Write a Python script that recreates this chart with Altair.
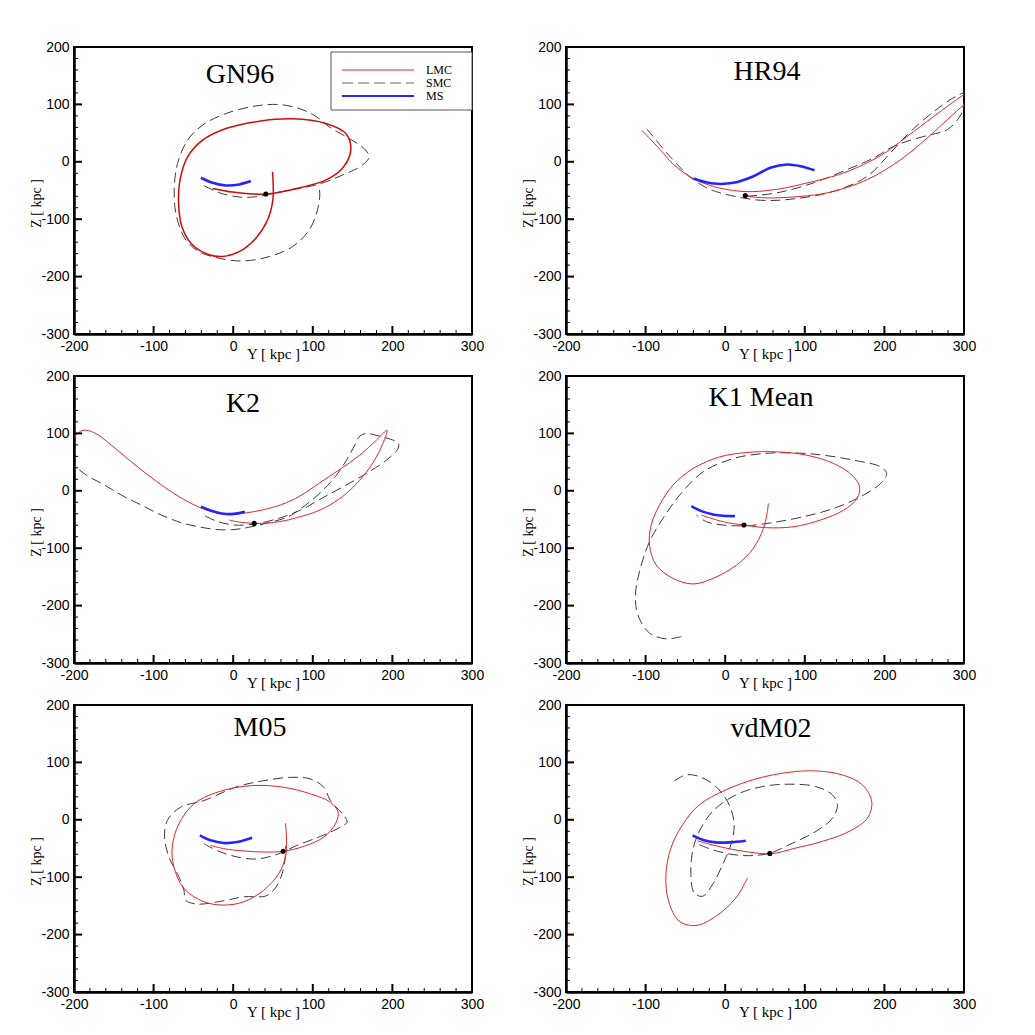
import altair as alt
import pandas as pd

# ---------------- data (Y, Z in kpc) ----------------
gn96_lmc_y = [-26, -1, 16, 41, 74.5, 116, 137, 147.7, 141.4, 116.3, 74.5, 32.6, -9.2, -38.5, -57.3, -66.9, -68.6, -64.4, -51, -30.1, -13.4, 7.5, 28.5, 43.1, 49.8, 50.2, 49.4]
gn96_lmc_z = [-46.4, -52.8, -55.1, -56.2, -48.1, -31.9, -11.6, 20.3, 49.3, 66.7, 74.8, 70.7, 58, 37.7, 8.7, -31.9, -72.5, -113, -145, -162, -165, -156.5, -133, -101.4, -66.7, -37.7, -17.4]
gn96_smc_y = [-36.4, -17.6, 7.5, 28.5, 53.6, 82.8, 108, 137.2, 162.3, 170.7, 164.4, 145.6, 120.5, 103.8, 82.8, 57.7, 28.5, -9.2, -38.5, -57.3, -69.9, -74.1, -71.1, -59.4, -42.7, -17.6, 11.7, 45.2, 74.5, 95.4, 105.9, 108.8, 107.1]
gn96_smc_z = [-41.7, -53.9, -61.4, -60.9, -53.9, -46.4, -38.8, -23.2, -5.8, 8.7, 23.2, 40.6, 60.9, 79.4, 92.8, 99.7, 97.4, 84.1, 63.8, 37.7, -2.9, -49.3, -95.7, -136.2, -156.5, -168.1, -172.8, -165.2, -147.8, -118.8, -84.1, -55.1, -40.6]
gn96_ms_y = [-40.6, -25.9, -9.2, 7.5, 22.2]
gn96_ms_z = [-27.8, -36.5, -41.2, -39.4, -33.6]
gn96_dot = [41, -56.2]

hr94_lmc_y = [-104.8, -81.8, -65, -39.8, -14.7, 10.5, 35, 69, 94.6, 149.2, 195.5, 220.7, 254.2, 300.5, 310, 312, 300.5, 279.4, 254.2, 220.7, 178.6, 128.1, 65.1, 40, 25.2]
hr94_lmc_z = [55, 21.4, -4.6, -29.5, -43, -50, -52, -47, -39.6, -19.2, 11, 36, 70.9, 117.5, 124, 112, 100, 73.8, 41.9, 4, -30.9, -54.1, -62.8, -62, -58.8]
hr94_smc_y = [-98.5, -73.4, -48, -40, -25, -6.3, 44.1, 86.1, 136.6, 178.6, 203.8, 229, 262.7, 292, 302.6, 306, 301.4, 296.3, 279.4, 254.2, 229, 208, 187, 153.3, 111.3, 65.1, 27.3]
hr94_smc_z = [57.3, 15.6, -22, -31, -44, -54.1, -67, -64.6, -51.3, -25.1, 9.8, 47.6, 88.3, 115.7, 120.4, 115, 108.7, 82.5, 56.4, 45.9, 36, 24.4, 7, -13.4, -36.6, -54.1, -60]
hr94_ms_y = [-40, -14.8, 10.5, 35.7, 56.7, 77.7, 94.6, 112.2]
hr94_ms_z = [-29, -37.9, -36.6, -25.1, -10.5, -4.7, -7.7, -14.7]
hr94_dot = [25.2, -58.8]

k2_lmc_y = [-205, -199.2, -188.7, -174, -153, -127.9, -98.5, -69.2, -44, -23.1, -2.1, 27.3, 60.8, 83.7, 108.8, 133.9, 159, 179.9, 193.2, 186.2, 173.6, 159, 142.3, 121.3, 100.4, 83.7, 65, 35.6, 10.5, -5]
k2_lmc_z = [88, 95, 105.5, 100.9, 79.4, 50.4, 18.6, -9.3, -27.8, -37.7, -40.6, -36, -24, -9.2, 13.9, 37.2, 62.1, 88.2, 105.6, 76.5, 44.7, 18.6, -4.5, -24.9, -38.3, -45.2, -52, -56.8, -55, -51]
k2_smc_y = [-210, -199, -182.4, -161.4, -140.5, -115.3, -90.1, -65, -44, -23.1, -2.1, 18.9, 44, 69.2, 83.7, 96.2, 112.9, 129.7, 142.3, 152.7, 159, 167.4, 184, 202.9, 207.9, 205.8, 192.5, 167.4, 138, 108.8, 90, 70, 52.4, 26.4, 2.1, -18.9, -37.7]
k2_smc_z = [48, 41.7, 25.5, 9.9, -7.5, -24.9, -42.3, -55.7, -62.6, -67.2, -67.8, -63.8, -55.7, -45.2, -32.3, -19.1, 1.2, 27.3, 53.4, 79.5, 95.1, 99.8, 95.1, 87, 81.2, 70.8, 53.4, 30.3, 7, -15, -30, -42, -49.9, -58, -59.7, -53.9, -42.3]
k2_ms_y = [-40.7, -27.3, -14.7, -2.1, 14.7]
k2_ms_z = [-27.8, -34.8, -39.4, -40.6, -36.5]
k2_dot = [26.4, -56.8]

k1_lmc_y = [54.3, 52.2, 48, 35.3, 14.3, -15.1, -40.4, -65.6, -86.7, -95.1, -93, -82.5, -65.6, -40.4, -6.7, 26.9, 64.8, 102.7, 136.3, 159.4, 168.7, 165.8, 148.9, 119.5, 85.8, 52.2, 23.6, -2.5, -29.9]
k1_lmc_z = [-22, -42.3, -65.5, -100.3, -129.3, -152.5, -162.3, -152.5, -129.3, -94.5, -59.7, -24.9, 9.9, 38.8, 59.1, 66.7, 67.8, 62, 47.5, 27.2, 7, -13.3, -33.6, -51, -62.6, -64.3, -59.7, -53.9, -42.3]
k1_smc_y = [-55.1, -74, -95, -109.8, -112.7, -107.7, -95.1, -78.2, -57.2, -27.8, 10.1, 48, 85.8, 123.7, 161.5, 195.2, 202.8, 195.2, 169.9, 136.3, 98.4, 60.6, 26.9, -2.5, -23.6, -36.2]
k1_smc_z = [-253.9, -258, -248, -216, -181.4, -140.9, -88.7, -48.1, -7.5, 33, 56.2, 64.9, 66.1, 62, 53.3, 41.7, 30.1, 12.8, -10.4, -30.7, -45.2, -55.1, -60.9, -59.7, -53.9, -42.3]
k1_ms_y = [-42.5, -29.9, -15.1, -2.5, 12.2]
k1_ms_z = [-26.7, -35.4, -41.2, -43.5, -44.1]
k1_dot = [23.6, -59.7]

m05_lmc_y = [65.7, 67, 65.7, 57.3, 38.5, 13.4, -11.7, -36.8, -61.9, -74.5, -76.6, -68.2, -49.4, -20.1, 21.8, 63.6, 97.1, 122.2, 131.8, 128.5, 113.8, 88.7, 62.8, 38.5, 13.4, -11.7, -28.5]
m05_lmc_z = [-5.8, -35.8, -64.7, -93.6, -122.5, -142.8, -148.6, -142.8, -119.7, -82.1, -47.4, -6.9, 27.7, 48, 59.5, 56.6, 45.1, 30.6, 13.3, -6.9, -30.1, -46.2, -54.9, -56.1, -54.3, -50.3, -44.5]
m05_smc_y = [-36.8, -15.9, 9.2, 30.1, 55.2, 80.3, 109.6, 134.7, 143.1, 138.9, 122.2, 113.8, 97.1, 72, 38.5, 5, -36.8, -66.1, -82.8, -86.2, -80.8, -68.2, -61.9, -59.8, -45.2, -11.7, 13.4, 40.6, 51, 60, 65, 66]
m05_smc_z = [-41.6, -56.1, -65.9, -68.2, -60.1, -44.5, -28.9, -12.7, -4, 7.5, 33.5, 56.6, 71.1, 74, 68.2, 57.8, 33.5, 22, -1.2, -30.1, -64.7, -99.4, -122.5, -139.9, -146.8, -141, -134.1, -132.9, -122.5, -100, -70, -45]
m05_ms_y = [-41.8, -28.5, -11.7, 5, 23.8]
m05_ms_z = [-27.2, -35.8, -40.5, -38.7, -31.2]
m05_dot = [62.8, -54.9]

vdm02_lmc_y = [28, 13.4, -11.7, -36.8, -57.7, -71.1, -74.5, -68.2, -53.6, -32.6, 0.8, 38.5, 80.3, 113.8, 147.3, 172.4, 184.1, 178.7, 155.6, 122.2, 88.7, 57.3, 30.1, 0.8, -20.1, -34.7]
vdm02_lmc_z = [-101.3, -136.1, -168, -184.1, -176.6, -141.9, -95.5, -49.2, -8.7, 26.1, 52.1, 71.2, 82.8, 85.1, 78.2, 60.8, 31.8, 2.9, -20.3, -37.6, -49.2, -59.1, -56.2, -49.2, -42.3, -36.5]
vdm02_smc_y = [-64, -49.4, -32.6, -11.7, 5, 11.3, 7.1, -3.3, -15.9, -28.5, -38.9, -43.1, -41, -32.6, -15.9, 13.4, 46.9, 80.3, 113.8, 134.7, 141, 134.7, 113.8, 80.3, 55.2, 30.1, 5, -15.9, -34.7]
vdm02_smc_z = [67.7, 78.2, 75.3, 57.9, 26.1, -8.7, -43.4, -78.2, -112.9, -133.2, -127.4, -95.5, -55, -20.3, 14.5, 43.4, 57.9, 62, 57.9, 43.4, 26.1, 2.9, -20.3, -43.4, -58.5, -62.5, -59.6, -52.1, -42.3]
vdm02_ms_y = [-41, -28.5, -11.7, 5, 25.9]
vdm02_ms_z = [-27.2, -34.7, -39.4, -39.4, -36.5]
vdm02_dot = [56.1, -58.5]

panel_names = ["GN96", "HR94", "K2", "K1 Mean", "M05", "vdM02"]
legend_labels = ["LMC", "SMC", "MS"]
x_tick_labels = [-200, -100, 0, 100, 200, 300]
y_tick_labels = [-300, -200, -100, 0, 100, 200]
x_minor = list(range(-200, 301, 20))
y_minor = list(range(-300, 201, 20))

# ---------------- styling ----------------
W, H = 398, 287
RED = "#e3262a"
GRAY = "#3c3c3c"
BLUE = "#2424ff"

xs = alt.Scale(domain=[-200, 300], nice=False, zero=False)
ys = alt.Scale(domain=[-300, 200], nice=False, zero=False)

x_axis = alt.Axis(values=x_tick_labels, ticks=False, tickSize=0, grid=False,
                  domainColor="black", domainWidth=2.5,
                  labelExpr="'' + datum.value",
                  labelFont="Liberation Sans", labelFontSize=14, labelColor="black",
                  labelPadding=5, labelFlush=False, labelOverlap=False,
                  title="Y [ kpc ]", titleFont="Liberation Serif", titleFontSize=15,
                  titleFontWeight="normal", titleColor="black",
                  titleY=12, titleBaseline="top")
y_axis = alt.Axis(values=y_tick_labels, ticks=False, tickSize=0, grid=False,
                  domainColor="black", domainWidth=2.5,
                  labelExpr="'' + datum.value",
                  labelFont="Liberation Sans", labelFontSize=14, labelColor="black",
                  labelPadding=5, labelFlush=False, labelOverlap=False,
                  title="Z [ kpc ]", titleFont="Liberation Serif", titleFontSize=14,
                  titleFontWeight="normal", titleColor="black",
                  titleX=-38, titleY=156, titleAlign="center", titleBaseline="middle")

X = alt.X("Y:Q", scale=xs, axis=x_axis)
Yenc = alt.Y("Z:Q", scale=ys, axis=y_axis)


def df(yv, zv):
    return pd.DataFrame({"Y": yv, "Z": zv, "i": list(range(len(yv)))})


def tick_layers():
    xt = pd.DataFrame({"Y": x_minor, "major": [v % 100 == 0 for v in x_minor]})
    yt = pd.DataFrame({"Z": y_minor, "major": [v % 100 == 0 for v in y_minor]})
    xmaj = alt.Chart(xt[xt.major]).mark_rule(color="black", strokeWidth=2).encode(
        x=X, y=alt.value(H), y2=alt.value(H - 8))
    xmin = alt.Chart(xt[~xt.major]).mark_rule(color="black", strokeWidth=1).encode(
        x=X, y=alt.value(H), y2=alt.value(H - 4))
    ymaj = alt.Chart(yt[yt.major]).mark_rule(color="black", strokeWidth=2).encode(
        y=Yenc, x=alt.value(0), x2=alt.value(8))
    ymin = alt.Chart(yt[~yt.major]).mark_rule(color="black", strokeWidth=1).encode(
        y=Yenc, x=alt.value(0), x2=alt.value(4))
    return [xmaj, xmin, ymaj, ymin]


def panel(name, lmc, smc, ms, dot, tx, ty, red_w=1.0, red_col=RED, legend=False):
    smc_l = alt.Chart(df(*smc)).mark_line(clip=True, color=GRAY, strokeWidth=1,
                                          strokeDash=[10, 5], interpolate="catmull-rom").encode(
        x=X, y=Yenc, order="i:Q")
    lmc_l = alt.Chart(df(*lmc)).mark_line(clip=True, color=red_col, strokeWidth=red_w,
                                          interpolate="catmull-rom").encode(
        x=X, y=Yenc, order="i:Q")
    ms_l = alt.Chart(df(*ms)).mark_line(clip=True, color=BLUE, strokeWidth=2.6,
                                        interpolate="catmull-rom").encode(
        x=X, y=Yenc, order="i:Q")
    dot_l = alt.Chart(pd.DataFrame({"Y": [dot[0]], "Z": [dot[1]]})).mark_circle(
        color="black", size=26, opacity=1).encode(x=X, y=Yenc)
    title_l = alt.Chart(pd.DataFrame({"t": [name]})).mark_text(
        font="Liberation Serif", fontSize=28, color="black", align="center",
        baseline="middle").encode(text="t:N", x=alt.value(tx), y=alt.value(ty))
    layers = [smc_l, lmc_l, ms_l, dot_l, title_l] + tick_layers()
    if legend:
        one = pd.DataFrame({"k": [0]})
        box = alt.Chart(one).mark_rect(fill="white", stroke="#555555", strokeWidth=1).encode(
            x=alt.value(257), x2=alt.value(398), y=alt.value(5), y2=alt.value(63))
        l1 = alt.Chart(one).mark_rule(color=RED, strokeWidth=1).encode(
            x=alt.value(268), x2=alt.value(340), y=alt.value(23))
        l2 = alt.Chart(one).mark_rule(color="#b4b4b4", strokeWidth=2, strokeDash=[11, 5]).encode(
            x=alt.value(268), x2=alt.value(340), y=alt.value(36))
        l3 = alt.Chart(one).mark_rule(color=BLUE, strokeWidth=2).encode(
            x=alt.value(268), x2=alt.value(340), y=alt.value(49))
        texts = []
        for lab, yy in zip(legend_labels, [23, 36, 49]):
            texts.append(alt.Chart(pd.DataFrame({"t": [lab]})).mark_text(
                font="Liberation Serif", fontSize=12, color="black", align="left",
                baseline="middle").encode(text="t:N", x=alt.value(352), y=alt.value(yy)))
        layers += [box, l1, l2, l3] + texts
    return alt.layer(*layers).properties(width=W, height=H)


p1 = panel(panel_names[0], (gn96_lmc_y, gn96_lmc_z), (gn96_smc_y, gn96_smc_z),
           (gn96_ms_y, gn96_ms_z), gn96_dot, 166, 28, red_w=1.5, red_col="#d10a0a", legend=True)
p2 = panel(panel_names[1], (hr94_lmc_y, hr94_lmc_z), (hr94_smc_y, hr94_smc_z),
           (hr94_ms_y, hr94_ms_z), hr94_dot, 201, 25)
p3 = panel(panel_names[2], (k2_lmc_y, k2_lmc_z), (k2_smc_y, k2_smc_z),
           (k2_ms_y, k2_ms_z), k2_dot, 169, 28)
p4 = panel(panel_names[3], (k1_lmc_y, k1_lmc_z), (k1_smc_y, k1_smc_z),
           (k1_ms_y, k1_ms_z), k1_dot, 195, 22)
p5 = panel(panel_names[4], (m05_lmc_y, m05_lmc_z), (m05_smc_y, m05_smc_z),
           (m05_ms_y, m05_ms_z), m05_dot, 186, 23)
p6 = panel(panel_names[5], (vdm02_lmc_y, vdm02_lmc_z), (vdm02_smc_y, vdm02_smc_z),
           (vdm02_ms_y, vdm02_ms_z), vdm02_dot, 205, 24)

chart = alt.concat(p1, p2, p3, p4, p5, p6, columns=2,
                   spacing={"row": 42, "column": 94}, bounds="flush").properties(
    padding={"left": 20, "top": 31, "right": 5, "bottom": 5},
    background="white",
).configure_view(stroke="black", strokeWidth=2)

chart.save("out.html", embed_options={"renderer": "svg", "actions": False})
